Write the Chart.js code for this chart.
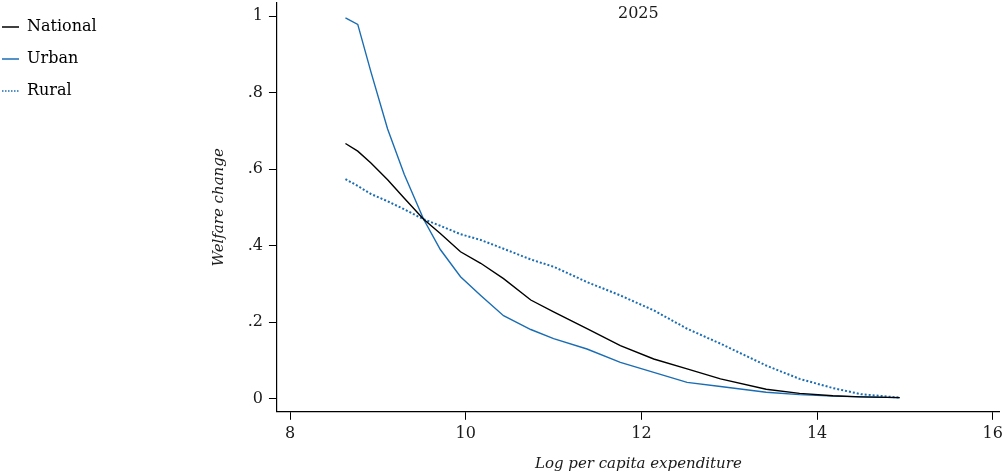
<!DOCTYPE html>
<html>
<head>
<meta charset="utf-8">
<script src="https://cdn.jsdelivr.net/npm/chart.js@4.4.1/dist/chart.umd.min.js"></script>
<style>
  html, body { margin: 0; padding: 0; background: #fff; }
  #wrap { width: 1007px; height: 476px; }
</style>
</head>
<body>
<div id="wrap"><canvas id="welfareChart" width="1007" height="476"></canvas></div>
<script>
// Log per capita expenditure grid (x values)
const logExp   = [8.63, 8.77, 8.92, 9.11, 9.30, 9.52, 9.71, 9.94, 10.17, 10.43, 10.74, 11.00, 11.38, 11.76, 12.14, 12.52, 12.90, 13.42, 13.80, 14.18, 14.50, 14.94];
const national = [0.667, 0.647, 0.616, 0.572, 0.524, 0.469, 0.432, 0.384, 0.354, 0.314, 0.258, 0.227, 0.183, 0.139, 0.104, 0.078, 0.052, 0.025, 0.014, 0.008, 0.005, 0.003];
const urban    = [0.995, 0.978, 0.854, 0.705, 0.586, 0.469, 0.390, 0.319, 0.270, 0.217, 0.181, 0.157, 0.130, 0.095, 0.069, 0.043, 0.032, 0.017, 0.011, 0.007, 0.005, 0.003];
const rural    = [0.574, 0.556, 0.535, 0.516, 0.495, 0.469, 0.452, 0.430, 0.415, 0.392, 0.364, 0.345, 0.305, 0.270, 0.231, 0.183, 0.144, 0.087, 0.052, 0.028, 0.012, 0.003];
const xTicks = [8, 10, 12, 14, 16];
const yTicks = [0, 0.2, 0.4, 0.6, 0.8, 1];
const panelTitle = "2025";

const FONT = "'DejaVu Serif', 'Liberation Serif', serif";
const BLUE = '#1a6db3';
const TEXT = '#1a1a1a';

function pts(ys) {
    return logExp.map((x, i) => ({ x: x, y: ys[i] }));
}

// draws the year label inside the plot area
const panelTitlePlugin = {
    id: 'panelTitle',
    afterDraw(chart) {
        const { ctx, chartArea } = chart;
        ctx.save();
        ctx.font = "16px " + FONT;
        ctx.fillStyle = TEXT;
        ctx.textAlign = 'center';
        ctx.textBaseline = 'middle';
        ctx.fillText(panelTitle, (chartArea.left + chartArea.right) / 2, chartArea.top + 11);
        ctx.restore();
    }
};

new Chart(document.getElementById("welfareChart"), {
    type: 'line',
    data: {
        datasets: [{
            label: 'National',
            data: pts(national),
            borderColor: '#000',
            borderWidth: 1.4,
            pointRadius: 0,
            fill: false
        }, {
            label: 'Urban',
            data: pts(urban),
            borderColor: BLUE,
            borderWidth: 1.4,
            pointRadius: 0,
            fill: false
        }, {
            label: 'Rural',
            data: pts(rural),
            borderColor: BLUE,
            borderWidth: 2,
            borderDash: [2, 2],
            pointRadius: 0,
            fill: false
        }]
    },
    options: {
        responsive: false,
        animation: false,
        layout: { padding: { left: -14, top: 3, right: 6, bottom: 3 } },
        plugins: {
            tooltip: { enabled: false },
            legend: {
                position: 'left',
                align: 'start',
                labels: {
                    usePointStyle: true,
                    pointStyle: 'line',
                    pointStyleWidth: 17,
                    boxHeight: 10,
                    padding: 16,
                    color: TEXT,
                    font: { family: FONT, size: 16 },
                    generateLabels: chart => chart.data.datasets.map((ds, i) => ({
                        text: ds.label,
                        strokeStyle: ds.borderColor,
                        fillStyle: ds.borderColor,
                        lineWidth: 1.4,
                        lineDash: ds.borderDash ? [1.5, 1.5] : [],
                        pointStyle: 'line',
                        hidden: false,
                        datasetIndex: i
                    }))
                }
            }
        },
        scales: {
            x: {
                type: 'linear',
                min: 7.85,
                max: 16.08,
                afterBuildTicks: axis => { axis.ticks = xTicks.map(v => ({ value: v })); },
                grid: { drawOnChartArea: false, drawTicks: true, tickLength: 8, color: '#000' },
                border: { display: true, color: '#000', width: 1.2 },
                ticks: { color: TEXT, padding: 4, font: { family: FONT, size: 16 } },
                title: {
                    display: true,
                    text: 'Log per capita expenditure',
                    color: TEXT,
                    font: { family: FONT, size: 15, style: 'italic' },
                    padding: { top: 8, bottom: 0 }
                }
            },
            y: {
                type: 'linear',
                min: -0.034,
                max: 1.034,
                afterBuildTicks: axis => { axis.ticks = yTicks.map(v => ({ value: v })); },
                afterFit: axis => { axis.paddingTop = 0; },
                grid: { drawOnChartArea: false, drawTicks: true, tickLength: 8, color: '#000' },
                border: { display: true, color: '#000', width: 1.2 },
                ticks: {
                    color: TEXT,
                    padding: 6,
                    font: { family: FONT, size: 16 },
                    callback: v => v === 0 ? '0' : v === 1 ? '1' : String(Math.round(v * 10) / 10).replace(/^0/, '')
                },
                title: {
                    display: true,
                    text: 'Welfare change',
                    color: TEXT,
                    font: { family: FONT, size: 15, style: 'italic' },
                    padding: { top: 103, bottom: 14 }
                }
            }
        }
    },
    plugins: [panelTitlePlugin]
});
</script>
</body>
</html>
